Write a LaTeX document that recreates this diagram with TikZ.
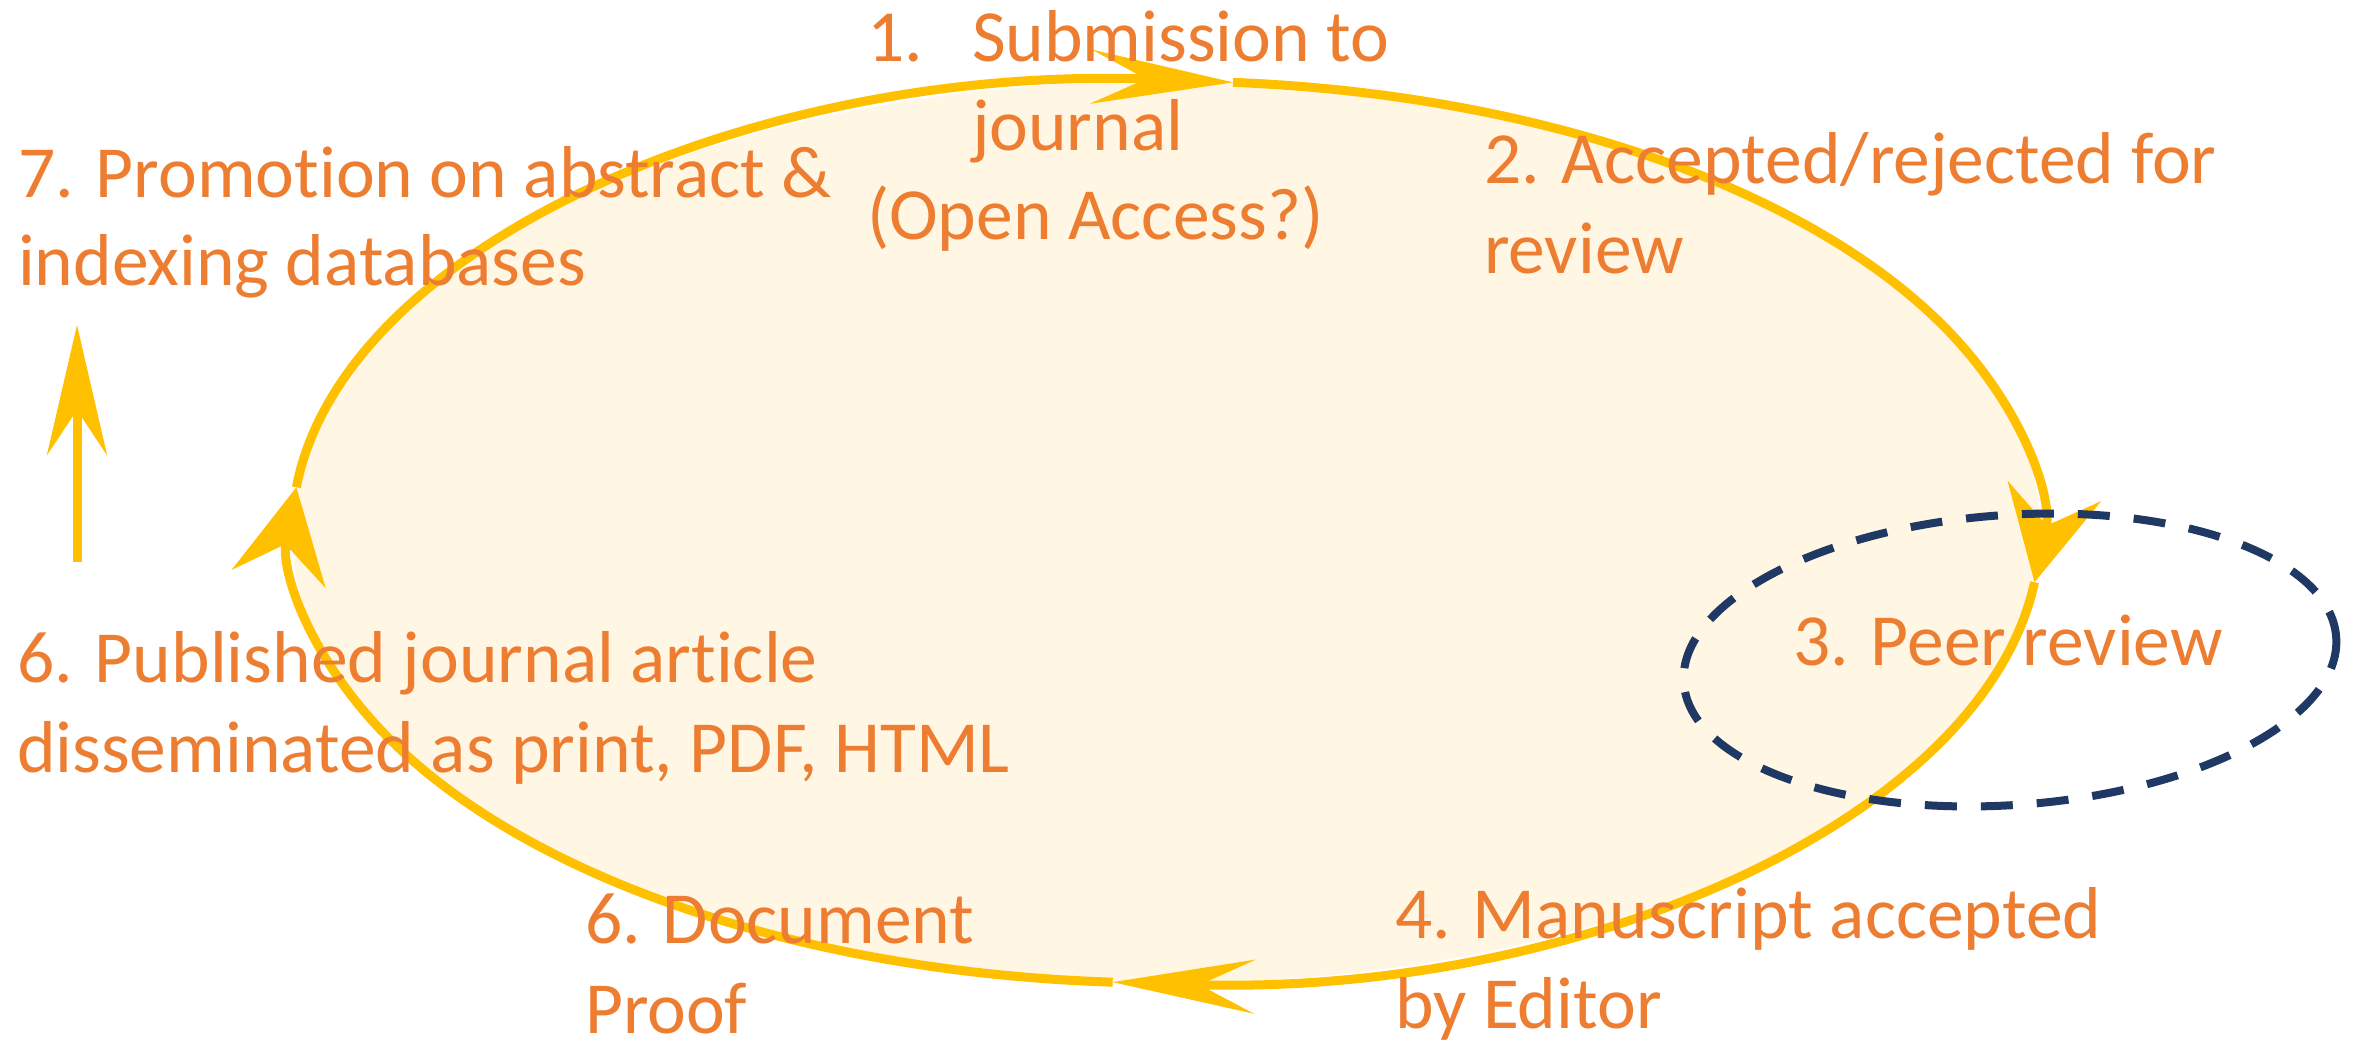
\documentclass[tikz,border=0pt]{standalone}
\usepackage{fontspec}
\setmainfont{Carlito}[Ligatures=NoCommon]
\usetikzlibrary{arrows.meta}
\definecolor{txtorange}{HTML}{ED7D31}
\definecolor{cycyellow}{HTML}{FFC000}
\definecolor{cycfill}{HTML}{FFF6E3}
\definecolor{peerblue}{HTML}{203864}
\begin{document}
\begin{tikzpicture}[x=1pt,y=-1pt,
  lbl/.style={anchor=base west,inner sep=0pt,outer sep=0pt,text=txtorange,font=\fontsize{73.5}{88}\selectfont},
  cycline/.style={draw=cycyellow,line width=9pt},
  longtip/.style={-{Stealth[length=142pt,width=54pt,inset=55pt]}},
  widetip/.style={-{Stealth[length=93pt,width=95pt,inset=35pt]}},
  uptip/.style={-{Stealth[length=130pt,width=60pt,inset=45pt]}},
  peerline/.style={draw=peerblue,line width=8pt,dash pattern=on 32pt off 24pt}
]
\useasboundingbox[fill=white] (0,0) rectangle (2356,1039);
% main cycle
\coordinate (C) at (1166,532);
\fill[cycfill] (C) ellipse [x radius=874, y radius=451];
\path (C) ++(-85.6:874 and 451) coordinate (ptop)
      (C) ++(6.4:874 and 451) coordinate (pright)
      (C) ++(93.5:874 and 451) coordinate (pbottom)
      (C) ++(-174.3:874 and 451) coordinate (pleft);
\draw[cycline,longtip] (pleft) arc[start angle=-174.3,end angle=-85.6,x radius=874,y radius=451];
\draw[cycline,widetip] (ptop) arc[start angle=-85.6,end angle=6.4,x radius=874,y radius=451];
\draw[cycline,longtip] (pright) arc[start angle=6.4,end angle=93.5,x radius=874,y radius=451];
\draw[cycline,widetip] (pbottom) arc[start angle=93.5,end angle=185.7,x radius=874,y radius=451];
% promotion arrow
\coordinate (vs) at (77,562);
\coordinate (ve) at (77,325);
\draw[cycline,uptip] (vs) -- (ve);
% peer review ellipse
\coordinate (D) at (2010,660);
\draw[peerline,rotate around={4:(D)}] (D) ellipse [x radius=327, y radius=145];
% labels
\node[lbl] (s1a) at (867,61) {1.};
\node[lbl] (s1b) at (972,61) {Submission to};
\node[lbl] (s1c) at (972,150) {journal};
\node[lbl] (s1d) at (867,239) {(Open Access?)};
\node[lbl] (s2a) at (1484,183) {2. Accepted/rejected for};
\node[lbl] (s2b) at (1484,273) {review};
\node[lbl] (s3) at (1793,665) {3. Peer review};
\node[lbl] (s4a) at (1395,938) {4. Manuscript accepted};
\node[lbl] (s4b) at (1395,1028) {by Editor};
\node[lbl] (s6a) at (585,943) {6. Document};
\node[lbl] (s6b) at (585,1033) {Proof};
\node[lbl] (s6c) at (17,682) {6. Published journal article};
\node[lbl] (s6d) at (17,772) {disseminated as print, PDF, HTML};
\node[lbl] (s7a) at (18,197) {7. Promotion on abstract \&};
\node[lbl] (s7b) at (18,285) {indexing databases};
\end{tikzpicture}
\end{document}
